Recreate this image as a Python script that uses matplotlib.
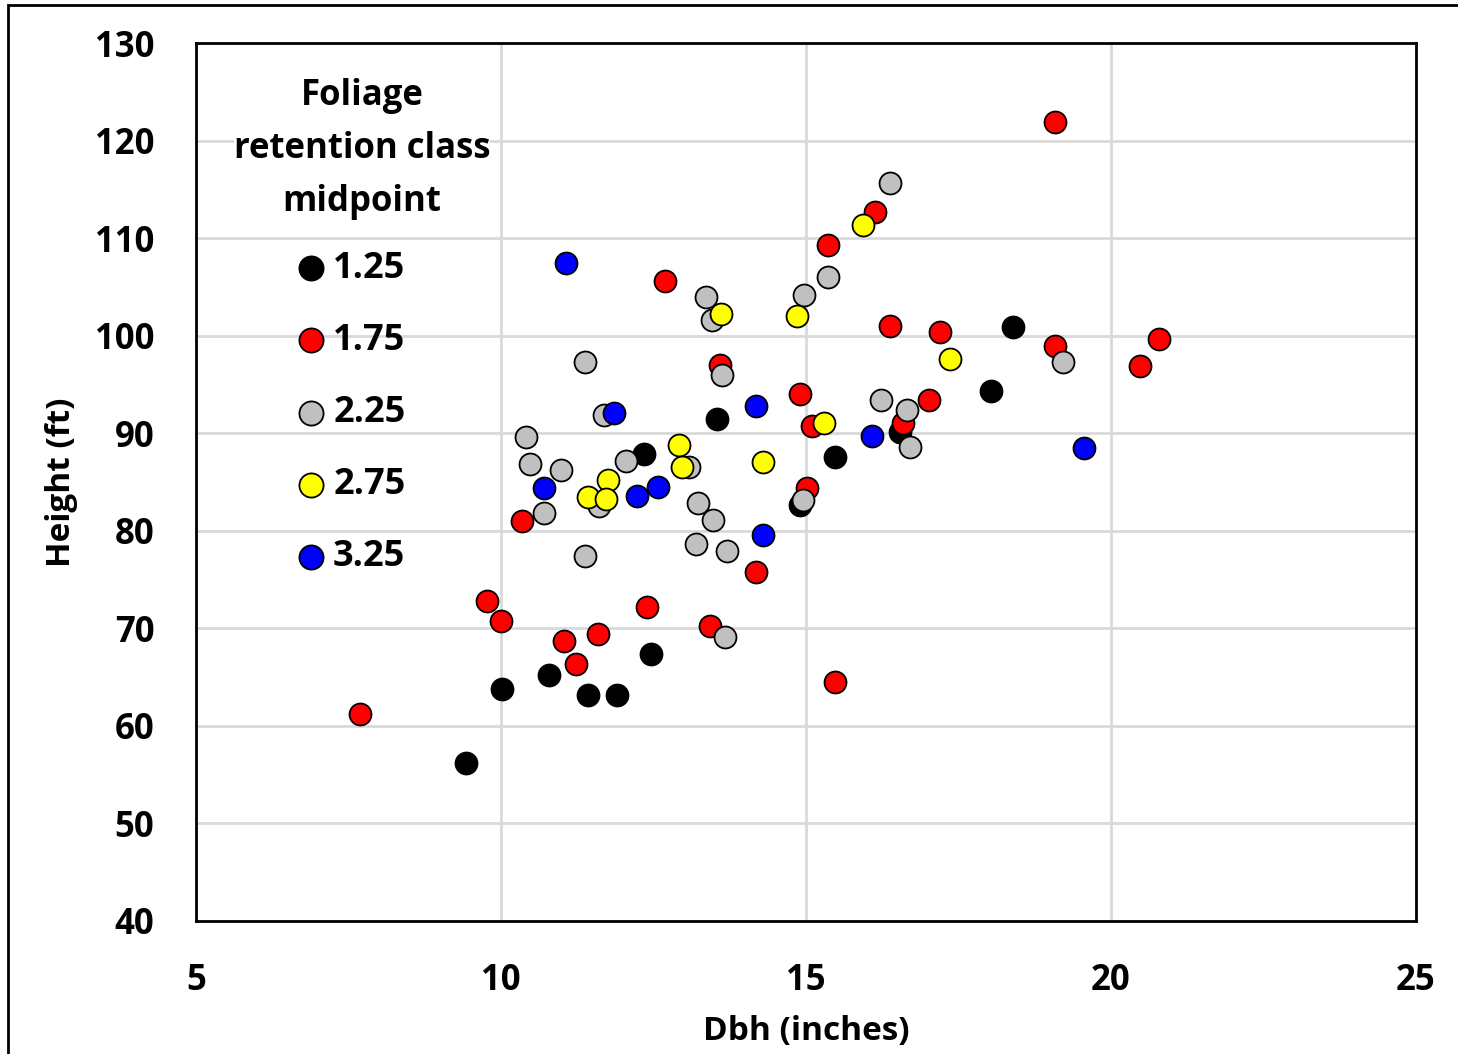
"""Tree height vs. diameter, coloured by foliage retention class."""

import matplotlib.pyplot as plt
from matplotlib.patches import Rectangle

plt.rcParams["font.family"] = ["Open Sans", "DejaVu Sans"]
plt.rcParams["font.weight"] = "bold"

# Dbh (inches) and height (ft) per foliage retention class midpoint
dbh_125 = [9.43, 10.02, 10.79, 11.43, 11.90, 12.46, 12.34, 13.54, 15.48, 14.90, 16.54, 18.03, 18.39]
ht_125 = [56.2, 63.8, 65.2, 63.2, 63.2, 67.4, 87.9, 91.5, 87.6, 82.6, 90.1, 94.3, 100.9]

dbh_175 = [7.69, 9.77, 10.00, 10.34, 11.03, 11.23, 11.59, 12.39, 13.43, 12.69, 13.59, 14.18, 14.90,
           15.02, 15.10, 15.36, 15.47, 16.13, 16.38, 16.59, 17.02, 17.20, 19.08, 19.08, 20.48, 20.79]
ht_175 = [61.2, 72.8, 70.7, 81.0, 68.7, 66.3, 69.4, 72.2, 70.2, 105.6, 97.0, 75.8, 94.0,
          84.4, 90.7, 109.3, 64.5, 112.7, 101.0, 91.0, 93.4, 100.4, 121.9, 98.9, 96.9, 99.7]

dbh_225 = [11.38, 10.41, 10.48, 10.98, 10.70, 11.38, 11.61, 11.69, 12.05, 13.08, 13.23, 13.48, 13.20,
           13.70, 13.67, 13.36, 13.46, 13.62, 14.97, 15.36, 16.38, 16.23, 16.66, 16.70, 14.95, 19.21]
ht_225 = [97.3, 89.6, 86.8, 86.2, 81.8, 77.4, 82.5, 91.9, 87.2, 86.5, 82.8, 81.1, 78.6,
          77.9, 69.1, 104.0, 101.6, 96.0, 104.2, 106.0, 115.6, 93.4, 92.4, 88.6, 83.2, 97.3]

dbh_275 = [11.43, 11.75, 11.72, 12.92, 12.97, 14.30, 13.61, 14.85, 15.30, 15.93, 17.36]
ht_275 = [83.5, 85.2, 83.3, 88.8, 86.5, 87.1, 102.2, 102.0, 91.0, 111.3, 97.6]

dbh_325 = [11.07, 11.85, 10.70, 12.23, 12.57, 14.18, 14.30, 16.08, 19.56]
ht_325 = [107.4, 92.1, 84.4, 83.6, 84.5, 92.8, 79.6, 89.7, 88.5]

classes = ["1.25", "1.75", "2.25", "2.75", "3.25"]
colors = ["#000000", "#ff0000", "#c0c0c0", "#ffff00", "#0000ff"]
series = [(dbh_125, ht_125), (dbh_175, ht_175), (dbh_225, ht_225),
          (dbh_275, ht_275), (dbh_325, ht_325)]

fig = plt.figure(figsize=(14.58, 10.54), dpi=100)
ax = fig.add_axes([0.1344, 0.1262, 0.8368, 0.833])

for (x, y), label, color in zip(series, classes, colors):
    ax.scatter(x, y, s=250, c=color, edgecolors="black", linewidths=1.3,
               label=label, zorder=3)

ax.set_xlim(5, 25)
ax.set_ylim(40, 130)
ax.set_xticks(range(5, 26, 5))
ax.set_yticks(range(40, 131, 10))
ax.grid(True, color="#d9d9d9", linewidth=2)
ax.set_axisbelow(True)
ax.tick_params(length=0, labelsize=25, pad=30)
for side in ax.spines.values():
    side.set_linewidth(2)
    side.set_color("black")

ax.set_xlabel("Dbh (inches)", fontsize=24, fontweight="bold", labelpad=12)
ax.set_ylabel("Height (ft)", fontsize=24, fontweight="bold", labelpad=12)

# legend heading drawn separately so the entries can sit off-centre under it
ax.text(0.1361, 0.8793, "Foliage\nretention class\nmidpoint", transform=ax.transAxes,
        ha="center", va="center", multialignment="center", fontsize=25,
        fontweight="bold", linespacing=1.62, zorder=4,
        bbox=dict(facecolor="white", edgecolor="none", pad=0))
ax.legend(loc="center left", bbox_to_anchor=(0.0828, 0.5785), frameon=False,
          fontsize=26, labelspacing=1.0, handletextpad=0.2, handlelength=0.8,
          markerscale=1.1, borderpad=0, borderaxespad=0)

# outer frame around the whole chart
fig.patches.append(Rectangle((8 / 1458, -0.1), 1.2, 1.1 - 5 / 1054,
                             transform=fig.transFigure, fill=False,
                             edgecolor="black", linewidth=2))

fig.savefig("out.png", dpi=100)
